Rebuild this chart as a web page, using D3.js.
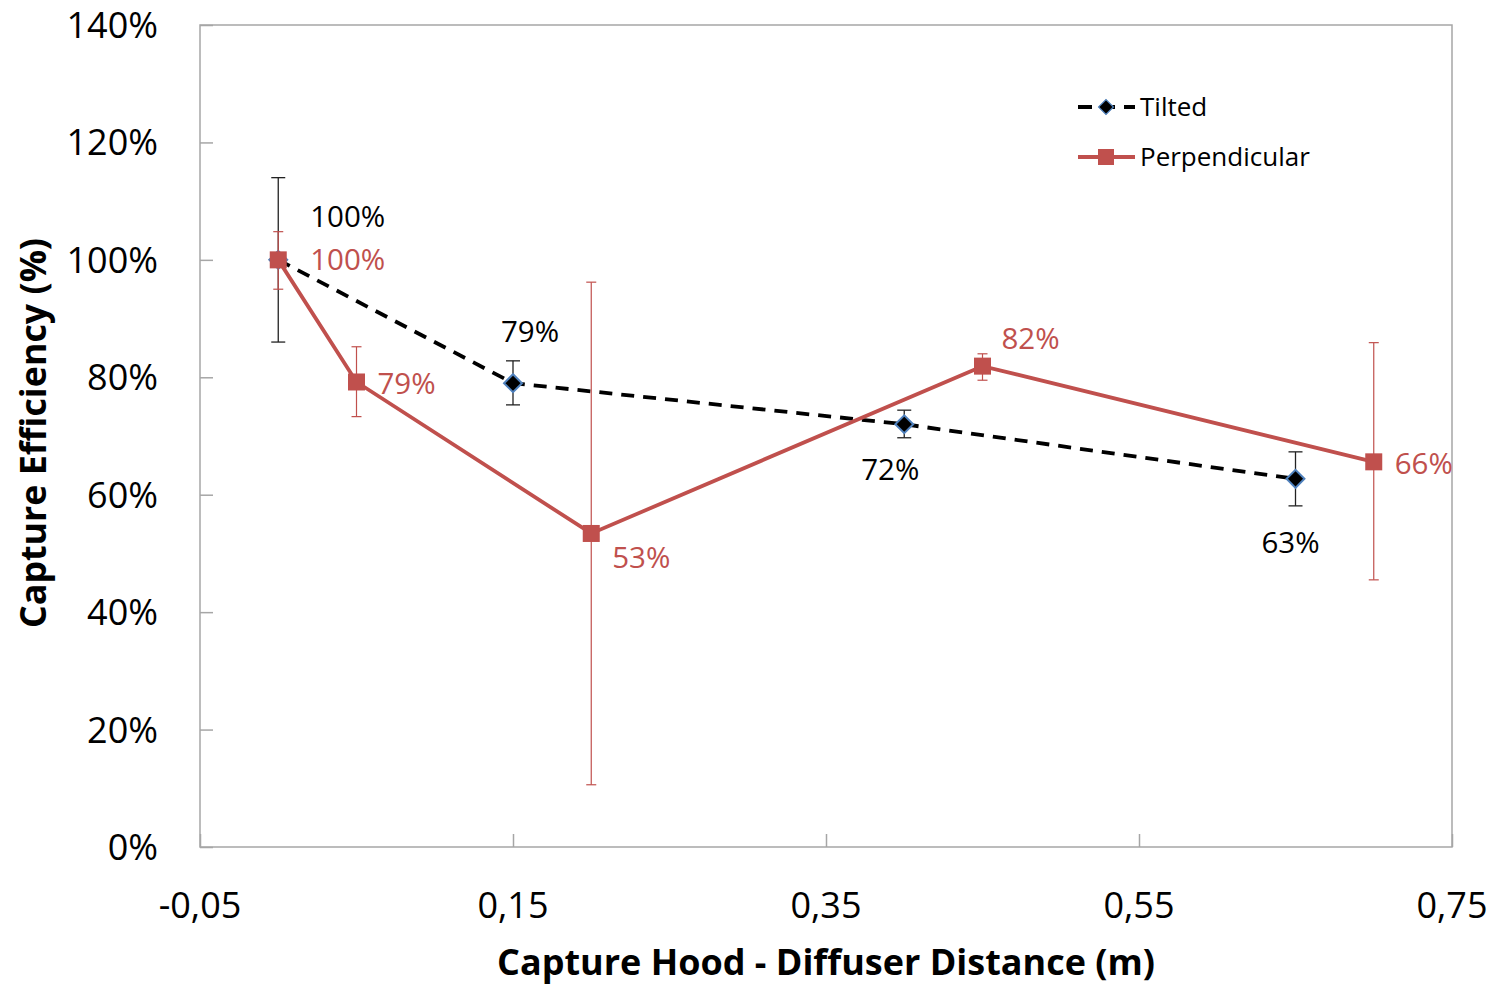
<!DOCTYPE html>
<html>
<head>
<meta charset="utf-8">
<script src="https://cdn.jsdelivr.net/npm/d3@7"></script>
<style>
  html, body { margin: 0; padding: 0; background: #fff; }
  svg { display: block; font-family: "Open Sans", "Noto Sans", sans-serif; }
</style>
</head>
<body>
<svg id="chart" width="1503" height="986"></svg>
<script>
// Capture efficiency vs. hood–diffuser distance, two hood orientations
const xTicks = [-0.05, 0.15, 0.35, 0.55, 0.75];
const xTickLabels = ["-0,05", "0,15", "0,35", "0,55", "0,75"];
const yTicks = [0, 0.2, 0.4, 0.6, 0.8, 1.0, 1.2, 1.4];
const yTickLabels = ["0%", "20%", "40%", "60%", "80%", "100%", "120%", "140%"];

const tiltedX = [0, 0.15, 0.40, 0.65];
const tiltedY = [1.00, 0.79, 0.72, 0.627];
const tiltedLow = [0.86, 0.753, 0.697, 0.581];
const tiltedHigh = [1.14, 0.828, 0.744, 0.673];

const perpX = [0, 0.05, 0.20, 0.45, 0.70];
const perpY = [1.00, 0.792, 0.534, 0.819, 0.656];
const perpLow = [0.95, 0.733, 0.106, 0.795, 0.455];
const perpHigh = [1.048, 0.852, 0.962, 0.84, 0.859];

const seriesNames = ["Tilted", "Perpendicular"];

const pct = d3.format(".0%");

const svg = d3.select("#chart");
const plot = { left: 200, top: 25, right: 1452, bottom: 847 };

const x = d3.scaleLinear().domain([-0.05, 0.75]).range([plot.left, plot.right]);
const y = d3.scaleLinear().domain([0, 1.4]).range([plot.bottom, plot.top]);

const axisGrey = "#a6a6a6";
const red = "#c0504d";
const blue = "#4f81bd";

// plot frame
svg.append("rect")
  .attr("x", plot.left).attr("y", plot.top)
  .attr("width", plot.right - plot.left).attr("height", plot.bottom - plot.top)
  .attr("fill", "none").attr("stroke", axisGrey).attr("stroke-width", 1.5);

// y axis (ticks pointing into the plot)
const yAxis = d3.axisRight(y).tickValues(yTicks).tickSize(13).tickFormat("");
const gy = svg.append("g").attr("transform", `translate(${plot.left},0)`).call(yAxis);
gy.select(".domain").remove();
gy.selectAll(".tick line").attr("stroke", axisGrey).attr("stroke-width", 1.5);
svg.append("g").selectAll("text").data(yTicks).join("text")
  .attr("x", 158).attr("y", d => y(d))
  .attr("dy", "0.36em")
  .attr("text-anchor", "end")
  .attr("font-size", 36).attr("fill", "#000")
  .text((d, i) => yTickLabels[i]);

// x axis (ticks pointing up into the plot)
const xAxis = d3.axisTop(x).tickValues(xTicks).tickSize(13).tickFormat("");
const gx = svg.append("g").attr("transform", `translate(0,${plot.bottom})`).call(xAxis);
gx.select(".domain").remove();
gx.selectAll(".tick line").attr("stroke", axisGrey).attr("stroke-width", 1.5);
svg.append("g").selectAll("text").data(xTicks).join("text")
  .attr("x", d => x(d)).attr("y", 918)
  .attr("text-anchor", "middle")
  .attr("font-size", 36).attr("fill", "#000")
  .text((d, i) => xTickLabels[i]);

// axis titles
svg.append("text")
  .attr("x", 826).attr("y", 975)
  .attr("text-anchor", "middle")
  .attr("font-size", 36).attr("font-weight", "bold")
  .attr("textLength", 658).attr("lengthAdjust", "spacingAndGlyphs")
  .text("Capture Hood - Diffuser Distance (m)");
svg.append("text")
  .attr("transform", "translate(46,433) rotate(-90)")
  .attr("text-anchor", "middle")
  .attr("font-size", 36).attr("font-weight", "bold")
  .attr("textLength", 390).attr("lengthAdjust", "spacingAndGlyphs")
  .text("Capture Efficiency (%)");

const tilted = tiltedX.map((v, i) => ({ x: v, y: tiltedY[i], lo: tiltedLow[i], hi: tiltedHigh[i] }));
const perp = perpX.map((v, i) => ({ x: v, y: perpY[i], lo: perpLow[i], hi: perpHigh[i] }));

const line = d3.line().x(d => x(d.x)).y(d => y(d.y));

// error bars
function errorBars(data, color, cap, width) {
  const g = svg.append("g").attr("stroke", color).attr("stroke-width", width);
  g.selectAll(".v").data(data).join("line")
    .attr("x1", d => x(d.x)).attr("x2", d => x(d.x))
    .attr("y1", d => y(d.lo)).attr("y2", d => y(d.hi));
  g.selectAll(".t").data(data).join("line")
    .attr("x1", d => x(d.x) - cap).attr("x2", d => x(d.x) + cap)
    .attr("y1", d => y(d.hi)).attr("y2", d => y(d.hi));
  g.selectAll(".b").data(data).join("line")
    .attr("x1", d => x(d.x) - cap).attr("x2", d => x(d.x) + cap)
    .attr("y1", d => y(d.lo)).attr("y2", d => y(d.lo));
}
errorBars(tilted, "#222", 7, 1.3);

// Tilted series: dashed black line with diamonds
svg.append("path").datum(tilted)
  .attr("d", line).attr("fill", "none")
  .attr("stroke", "#000").attr("stroke-width", 3.8)
  .attr("stroke-dasharray", "13,9");

svg.append("g").selectAll("path").data(tilted).join("path")
  .attr("transform", d => `translate(${x(d.x)},${y(d.y)}) rotate(45)`)
  .attr("d", d3.symbol().type(d3.symbolSquare).size(160))
  .attr("fill", "#000").attr("stroke", blue).attr("stroke-width", 2);

// Perpendicular series: solid red line with squares
errorBars(perp, red, 5, 1.2);
svg.append("path").datum(perp)
  .attr("d", line).attr("fill", "none")
  .attr("stroke", red).attr("stroke-width", 3.8);
svg.append("g").selectAll("rect").data(perp).join("rect")
  .attr("x", d => x(d.x) - 8.5).attr("y", d => y(d.y) - 8.5)
  .attr("width", 17).attr("height", 17)
  .attr("fill", red);

// value labels
const tiltedLabelPos = [
  { dx: 32, dy: -33, anchor: "start" },
  { dx: 17, dy: -41, anchor: "middle" },
  { dx: -14, dy: 56, anchor: "middle" },
  { dx: -5, dy: 74, anchor: "middle" }
];
svg.append("g").selectAll("text").data(tilted).join("text")
  .attr("x", (d, i) => x(d.x) + tiltedLabelPos[i].dx)
  .attr("y", (d, i) => y(d.y) + tiltedLabelPos[i].dy)
  .attr("text-anchor", (d, i) => tiltedLabelPos[i].anchor)
  .attr("font-size", 29.5).attr("fill", "#000")
  .text(d => pct(d.y));

const perpLabelPos = [
  { dx: 32, dy: 10 },
  { dx: 21, dy: 12 },
  { dx: 21, dy: 35 },
  { dx: 19, dy: -17 },
  { dx: 21, dy: 12 }
];
svg.append("g").selectAll("text").data(perp).join("text")
  .attr("x", (d, i) => x(d.x) + perpLabelPos[i].dx)
  .attr("y", (d, i) => y(d.y) + perpLabelPos[i].dy)
  .attr("text-anchor", "start")
  .attr("font-size", 29.5).attr("fill", red)
  .text(d => pct(d.y));

// legend
const legend = svg.append("g");
const legendRows = [
  { name: seriesNames[0], y: 107 },
  { name: seriesNames[1], y: 157 }
];
// Tilted
legend.append("line").attr("x1", 1078).attr("x2", 1135).attr("y1", 107).attr("y2", 107)
  .attr("stroke", "#000").attr("stroke-width", 3.8).attr("stroke-dasharray", "14,9");
legend.append("path")
  .attr("transform", "translate(1106,107) rotate(45)")
  .attr("d", d3.symbol().type(d3.symbolSquare).size(110))
  .attr("fill", "#000").attr("stroke", blue).attr("stroke-width", 1.2);
// Perpendicular
legend.append("line").attr("x1", 1078).attr("x2", 1135).attr("y1", 157).attr("y2", 157)
  .attr("stroke", red).attr("stroke-width", 3.8);
legend.append("rect").attr("x", 1098).attr("y", 149).attr("width", 16).attr("height", 16).attr("fill", red);
legend.selectAll("text").data(legendRows).join("text")
  .attr("x", 1140).attr("y", d => d.y)
  .attr("dy", "0.36em")
  .attr("font-size", 26).attr("fill", "#000")
  .text(d => d.name);
</script>
</body>
</html>
